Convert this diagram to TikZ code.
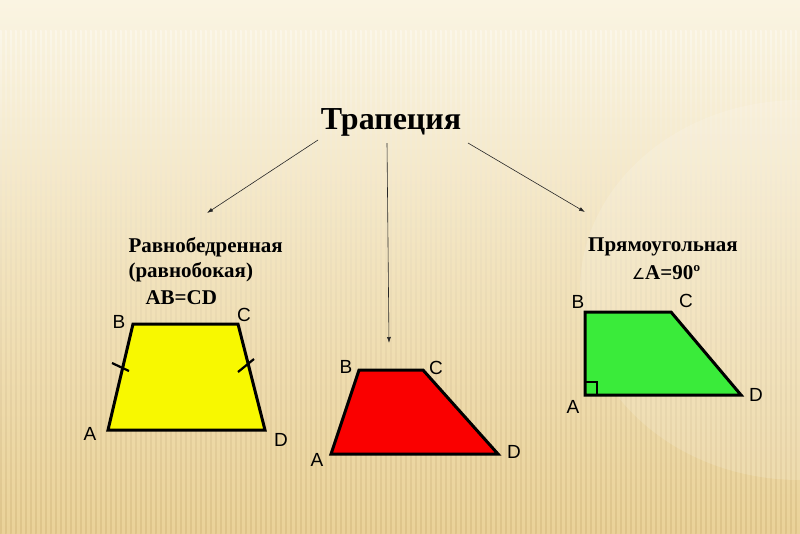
\documentclass[tikz,border=0pt]{standalone}
\usepackage{fontspec}
\setmainfont{Liberation Serif}
\newfontfamily\labelfont{Liberation Sans}
\newfontfamily\symfont{DejaVu Sans}
\usetikzlibrary{arrows.meta}
\definecolor{bgtop}{RGB}{250,244,226}
\definecolor{bgbottom}{RGB}{234,210,152}
\definecolor{stripe}{RGB}{200,170,110}
\definecolor{isoyellow}{RGB}{248,248,0}
\definecolor{genred}{RGB}{250,0,0}
\definecolor{rectgreen}{RGB}{58,235,58}
\tikzset{
  vertex/.style={font=\labelfont\fontsize{19}{19}\selectfont},
  caption/.style={font=\bfseries\fontsize{21}{24}\selectfont, align=left},
  edge/.style={line width=3pt, line join=miter},
  branch/.style={-{Latex[length=6pt,width=4pt]}, line width=0.6pt, draw=black!85}
}
\begin{document}
\begin{tikzpicture}[x=1pt,y=-1pt]
  % background
  \useasboundingbox (0,0) rectangle (800,533);
  \shade[top color=bgtop, bottom color=bgbottom] (0,0) rectangle (800,533);
  \foreach \x in {0,5,...,800}
    \shade[top color=stripe!0, bottom color=stripe, opacity=0.35]
      (\x,30) rectangle (\x+1.6,533);
  \fill[white, opacity=0.15] (800,290) ellipse (220 and 190);
  % title and branches
  \node[font=\bfseries\fontsize{32}{32}\selectfont] (title) at (391,122) {Трапеция};
  \coordinate (s1) at (318,140); \coordinate (e1) at (207,213);
  \coordinate (s2) at (387,143); \coordinate (e2) at (389,343);
  \coordinate (s3) at (468,143); \coordinate (e3) at (585,212);
  \draw[branch] (s1) -- (e1);
  \draw[branch] (s2) -- (e2);
  \draw[branch] (s3) -- (e3);
  % isosceles
  \node[caption, anchor=west] (iso1) at (125,247) {Равнобедренная};
  \node[caption, anchor=west] (iso2) at (125,272) {(равнобокая)};
  \node[caption, anchor=west] (iso3) at (142,298) {AB=CD};
  \coordinate (yA) at (108,430); \coordinate (yB) at (133,324);
  \coordinate (yC) at (238,324); \coordinate (yD) at (265,430);
  \draw[edge, fill=isoyellow] (yA) -- (yB) -- (yC) -- (yD) -- cycle;
  \draw[line width=2.2pt] (112,363) -- (129,371);
  \draw[line width=2.2pt] (238,372) -- (254,359);
  \draw
    (119,322) node[vertex] (yb){B}
    (244,315) node[vertex] (yc){C}
    (90,434) node[vertex] (ya){A}
    (281,440) node[vertex] (yd){D};
  % general
  \coordinate (rA) at (331,454); \coordinate (rB) at (359,370);
  \coordinate (rC) at (423,370); \coordinate (rD) at (498,454);
  \draw[edge, fill=genred] (rA) -- (rB) -- (rC) -- (rD) -- cycle;
  \draw
    (346,367) node[vertex] (rb){B}
    (436,368) node[vertex] (rc){C}
    (317,460) node[vertex] (ra){A}
    (514,452) node[vertex] (rd){D};
  % right
  \node[caption] (rt1) at (663,247) {Прямоугольная};
  \node[caption] (rt2) at (666,273) {{\symfont\fontsize{15}{15}\selectfont\mdseries ∠}A=90º};
  \coordinate (gA) at (585,395); \coordinate (gB) at (585,312);
  \coordinate (gC) at (671,312); \coordinate (gD) at (741,395);
  \draw[edge, fill=rectgreen] (gA) -- (gB) -- (gC) -- (gD) -- cycle;
  \draw[line width=2pt] (585,382) -- (597,382) -- (597,395);
  \draw
    (578,302) node[vertex] (gb){B}
    (686,301) node[vertex] (gc){C}
    (573,407) node[vertex] (ga){A}
    (756,395) node[vertex] (gd){D};
\end{tikzpicture}
\end{document}
